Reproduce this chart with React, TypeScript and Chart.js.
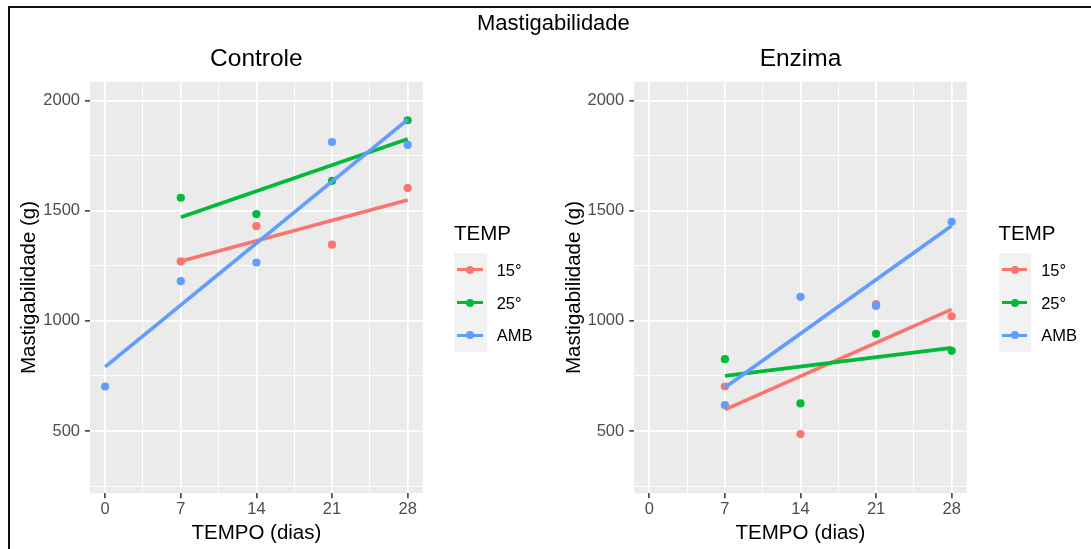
import React, { useEffect, useRef } from "react";
import { Chart, registerables } from "chart.js";

Chart.register(...registerables);

// ---------------- data ----------------
const days = [0, 7, 14, 21, 28];
const seriesNames = ["15°", "25°", "AMB"];
const seriesColors = ["#F8766D", "#00BA38", "#619CFF"];

const controle15 = [null, 1270, 1430, 1346, 1603];
const controle25 = [null, 1559, 1485, 1636, 1911];
const controleAMB = [702, 1180, 1265, 1812, 1799];

const enzima15 = [null, 702, 486, 1076, 1021];
const enzima25 = [null, 826, 625, 941, 864];
const enzimaAMB = [null, 617, 1109, 1068, 1450];

// linear-fit line ends (day range and values)
const controleFitDays15 = [7, 28];
const controleFitDays25 = [7, 28];
const controleFitDaysAMB = [0, 28];
const controleFit15 = [1271, 1549];
const controleFit25 = [1470, 1826];
const controleFitAMB = [791, 1914];

const enzimaFitDays15 = [7, 28];
const enzimaFitDays25 = [7, 28];
const enzimaFitDaysAMB = [7, 28];
const enzimaFit15 = [597, 1052];
const enzimaFit25 = [750, 877];
const enzimaFitAMB = [697, 1432];

const xMajorTicks = [0, 7, 14, 21, 28];
const xTickLabels = ["0", "7", "14", "21", "28"];
const xMinorTicks = [3.5, 10.5, 17.5, 24.5];
const yMajorTicks = [500, 1000, 1500, 2000];
const yTickLabels = ["500", "1000", "1500", "2000"];
const yMinorTicks = [250, 750, 1250, 1750];

const xLimits = [-1.4, 29.4];
const yLimits = [217, 2086];

const mainTitle = "Mastigabilidade";
const xTitle = "TEMPO (dias)";
const yTitle = "Mastigabilidade (g)";
const legendTitle = "TEMP";

// ---------------- styling ----------------
const FONT = "'Liberation Sans', Arial, Helvetica, sans-serif";
const CANVAS_H = 549;

const panelBg: any = {
  id: "panelBg",
  beforeDraw(chart: any) {
    const { ctx, chartArea } = chart;
    ctx.save();
    ctx.fillStyle = "#EBEBEB";
    ctx.fillRect(chartArea.left, chartArea.top, chartArea.right - chartArea.left, chartArea.bottom - chartArea.top);
    ctx.restore();
  },
};

function toPoints(vals: (number | null)[]) {
  const out: { x: number; y: number }[] = [];
  days.forEach((d, i) => {
    const v = vals[i];
    if (v !== null && v !== undefined) out.push({ x: d, y: v });
  });
  return out;
}

function toFit(fd: number[], fv: number[]) {
  return [
    { x: fd[0], y: fv[0] },
    { x: fd[1], y: fv[1] },
  ];
}

function isMajor(list: number[], v: number) {
  return list.some((m) => Math.abs(m - v) < 1e-6);
}

type PanelProps = {
  left: number;
  width: number;
  yAxisWidth: number;
  padRight: number;
  values: (number | null)[][];
  fitDays: number[][];
  fits: number[][];
};

function Panel({ left, width, yAxisWidth, padRight, values, fitDays, fits }: PanelProps) {
  const ref = useRef<HTMLCanvasElement>(null);
  useEffect(() => {
    if (!ref.current) return;
    const lineSets = [2, 1, 0].map((k) => ({
      label: seriesNames[k] + " fit",
      data: toFit(fitDays[k], fits[k]),
      showLine: true,
      borderColor: seriesColors[k],
      backgroundColor: seriesColors[k],
      borderWidth: 3.7,
      pointRadius: 0,
      pointHoverRadius: 0,
      fill: false,
    }));
    const pointSets = [2, 1, 0].map((k) => ({
      label: seriesNames[k],
      data: toPoints(values[k]),
      showLine: false,
      pointRadius: 4.1,
      pointBorderWidth: 0,
      pointBackgroundColor: seriesColors[k],
      pointBorderColor: seriesColors[k],
    }));
    const grid = (majors: number[]) => ({
      color: "#FFFFFF",
      lineWidth: (c: any) => (c.tick ? (isMajor(majors, c.tick.value) ? 1.8 : 0.9) : 0),
      drawTicks: true,
      tickLength: 5,
      tickWidth: 1.5,
      tickColor: (c: any) => (c.tick && isMajor(majors, c.tick.value) ? "#333333" : "rgba(0,0,0,0)"),
    });
    const chart = new Chart(ref.current, {
      type: "scatter",
      data: { datasets: [...lineSets, ...pointSets] as any },
      options: {
        responsive: false,
        maintainAspectRatio: false,
        animation: false,
        events: [],
        layout: { padding: { top: 81.7, left: 0, right: padRight, bottom: 0 } },
        plugins: {
          legend: { display: false },
          tooltip: { enabled: false },
          title: { display: false },
        },
        scales: {
          x: {
            type: "linear",
            position: "bottom",
            min: xLimits[0],
            max: xLimits[1],
            afterBuildTicks: (s: any) => {
              s.ticks = [...xMajorTicks, ...xMinorTicks].sort((a, b) => a - b).map((v) => ({ value: v }));
            },
            afterFit: (s: any) => {
              s.height = CANVAS_H - 493.3;
            },
            ticks: {
              autoSkip: false,
              maxRotation: 0,
              minRotation: 0,
              padding: 1.6,
              color: "#4D4D4D",
              font: { family: FONT, size: 16.5 },
              callback: (v: any) => {
                const i = xMajorTicks.findIndex((m) => Math.abs(m - Number(v)) < 1e-6);
                return i >= 0 ? xTickLabels[i] : "";
              },
            },
            grid: grid(xMajorTicks),
            border: { display: false },
            title: {
              display: true,
              text: xTitle,
              color: "#000000",
              font: { family: FONT, size: 20.5 },
              padding: { top: 0, bottom: 3.6 },
            },
          },
          y: {
            type: "linear",
            position: "left",
            min: yLimits[0],
            max: yLimits[1],
            afterBuildTicks: (s: any) => {
              s.ticks = [...yMajorTicks, ...yMinorTicks].sort((a, b) => a - b).map((v) => ({ value: v }));
            },
            afterFit: (s: any) => {
              s.width = yAxisWidth;
            },
            ticks: {
              autoSkip: false,
              padding: 5,
              color: "#4D4D4D",
              font: { family: FONT, size: 16.5 },
              callback: (v: any) => {
                const i = yMajorTicks.findIndex((m) => Math.abs(m - Number(v)) < 1e-6);
                return i >= 0 ? yTickLabels[i] : "";
              },
            },
            grid: grid(yMajorTicks),
            border: { display: false },
            title: {
              display: true,
              text: yTitle,
              color: "#000000",
              font: { family: FONT, size: 20.5 },
              padding: { top: 16.8, bottom: 0 },
            },
          },
        },
      } as any,
      plugins: [panelBg],
    });
    return () => chart.destroy();
  }, []);
  return (
    <canvas
      ref={ref}
      width={width}
      height={CANVAS_H}
      style={{ position: "absolute", left, top: 0, width, height: CANVAS_H }}
    />
  );
}

function Txt({ text, x, baseline, size, align = "left", color = "#000" }: any) {
  const top = baseline - 0.8465 * size;
  const style: any = {
    position: "absolute",
    top,
    fontFamily: FONT,
    fontSize: size,
    lineHeight: 1,
    color,
    whiteSpace: "nowrap",
  };
  if (align === "center") {
    style.left = x - 200;
    style.width = 400;
    style.textAlign = "center";
  } else {
    style.left = x;
  }
  return <div style={style}>{text}</div>;
}

function Legend({ left }: { left: number }) {
  const boxTop = 253.3;
  const keyH = 32.8;
  return (
    <>
      <Txt text={legendTitle} x={left} baseline={240.7} size={20.5} />
      <div
        style={{ position: "absolute", left, top: boxTop, width: 32.7, height: keyH * 3, background: "#F2F2F2" }}
      />
      {seriesNames.map((name, i) => {
        const cy = boxTop + keyH / 2 + keyH * i;
        return (
          <React.Fragment key={name}>
            <div
              style={{
                position: "absolute",
                left: left + 3,
                top: cy - 1.8,
                width: 25.7,
                height: 3.6,
                background: seriesColors[i],
              }}
            />
            <div
              style={{
                position: "absolute",
                left: left + 16.35 - 4,
                top: cy - 4,
                width: 8,
                height: 8,
                borderRadius: "50%",
                background: seriesColors[i],
              }}
            />
            <div
              style={{
                position: "absolute",
                left: left + 42.7,
                top: cy - 10,
                height: 20,
                lineHeight: "20px",
                fontFamily: FONT,
                fontSize: 16.5,
                color: "#000",
                whiteSpace: "nowrap",
              }}
            >
              {name}
            </div>
          </React.Fragment>
        );
      })}
    </>
  );
}

export default function App() {
  return (
    <div
      style={{
        position: "absolute",
        left: 0,
        top: 0,
        width: 1091,
        height: 549,
        overflow: "hidden",
        background: "#FFFFFF",
      }}
    >
      <Panel
        left={0}
        width={545}
        yAxisWidth={90}
        padRight={545 - 422.8}
        values={[controle15, controle25, controleAMB]}
        fitDays={[controleFitDays15, controleFitDays25, controleFitDaysAMB]}
        fits={[controleFit15, controleFit25, controleFitAMB]}
      />
      <Panel
        left={545}
        width={545}
        yAxisWidth={89.2}
        padRight={545 - 421.8}
        values={[enzima15, enzima25, enzimaAMB]}
        fitDays={[enzimaFitDays15, enzimaFitDays25, enzimaFitDaysAMB]}
        fits={[enzimaFit15, enzimaFit25, enzimaFitAMB]}
      />
      <Txt text={mainTitle} x={553.4} baseline={31} size={22} align="center" />
      <Txt text="Controle" x={256.4} baseline={66.5} size={24.5} align="center" />
      <Txt text="Enzima" x={800.5} baseline={66.5} size={24.5} align="center" />
      <Legend left={454} />
      <Legend left={998.5} />
      <div style={{ position: "absolute", left: 8, top: 6, width: 1083, height: 2, background: "#111111" }} />
      <div style={{ position: "absolute", left: 8, top: 6, width: 2, height: 543, background: "#111111" }} />
    </div>
  );
}
